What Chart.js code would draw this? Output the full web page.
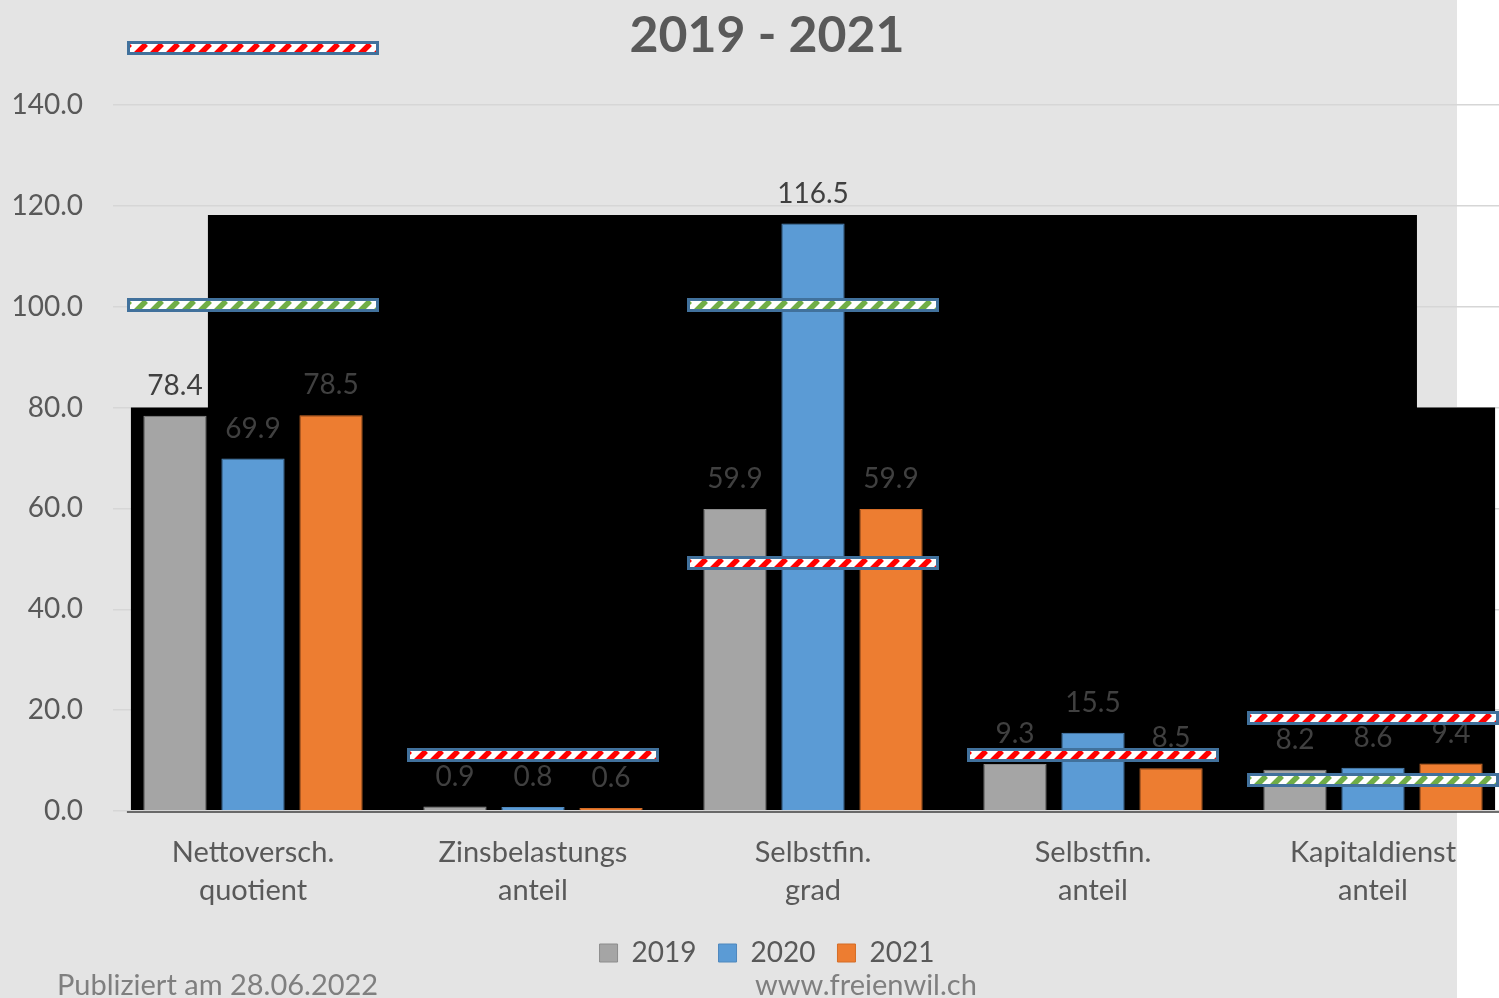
<!DOCTYPE html>
<html><head><meta charset="utf-8">
<script src="https://cdn.jsdelivr.net/npm/chart.js@4.4.1/dist/chart.umd.min.js"></script>
<style>
html,body{margin:0;padding:0;background:#fff;overflow:hidden;width:1499px;height:998px;}
#wrap{position:relative;width:1534px;height:998px;}
</style></head><body>
<div id="wrap"><canvas id="c"></canvas></div>
<script>
const categories = [["Nettoversch.","quotient"],["Zinsbelastungs","anteil"],["Selbstfin.","grad"],["Selbstfin.","anteil"],["Kapitaldienst","anteil"]];
const seriesNames = ["2019","2020","2021"];
const values2019 = [78.4, 0.9, 59.9, 9.3, 8.2];
const values2020 = [69.9, 0.8, 116.5, 15.5, 8.6];
const values2021 = [78.5, 0.6, 59.9, 8.5, 9.4];
const redLimits = [151.3, 11.2, 49.2, 11.1, 18.5];
const greenLimits = [100.3, null, 100.3, null, 6.1];
const yTicks = [0, 20, 40, 60, 80, 100, 120, 140];
// dark background artefact, in category / value units
const panelSteps = [-0.436, -0.161, 4.157, 4.436];
const panelTops = [80, 118.2];

const FONT = 'Lato';
const TXT = '#595959';

function makePattern(ctx, color) {
  const p = document.createElement('canvas'); p.width = 16; p.height = 16;
  const g = p.getContext('2d');
  g.fillStyle = '#ffffff'; g.fillRect(0, 0, 16, 16);
  g.strokeStyle = color; g.lineWidth = 5.5;
  g.beginPath();
  for (let k = -16; k <= 32; k += 16) { g.moveTo(k, 16); g.lineTo(k + 16, 0); }
  g.stroke();
  return ctx.createPattern(p, 'repeat');
}

const bgPlugin = {
  id: 'bg',
  beforeDraw(chart) {
    const ctx = chart.ctx;
    ctx.save();
    ctx.fillStyle = '#ffffff'; ctx.fillRect(0, 0, chart.width, chart.height);
    ctx.fillStyle = '#e4e4e4'; ctx.fillRect(0, 0, 1457, chart.height);
    ctx.restore();
  },
  beforeDatasetsDraw(chart) {
    const ctx = chart.ctx, x = chart.scales.x, y = chart.scales.y;
    const px = panelSteps.map(v => x.getPixelForValue(v));
    const y0 = y.getPixelForValue(0);
    const yLow = y.getPixelForValue(panelTops[0]);
    const yHigh = y.getPixelForValue(panelTops[1]);
    ctx.save();
    ctx.fillStyle = '#000000';
    ctx.beginPath();
    ctx.moveTo(px[0], y0 - 1);
    ctx.lineTo(px[0], yLow);
    ctx.lineTo(px[1], yLow);
    ctx.lineTo(px[1], yHigh);
    ctx.lineTo(px[2], yHigh);
    ctx.lineTo(px[2], yLow);
    ctx.lineTo(px[3], yLow);
    ctx.lineTo(px[3], y0 - 1);
    ctx.closePath();
    ctx.fill();
    ctx.strokeStyle = '#404040'; ctx.lineWidth = 1.5;
    ctx.beginPath();
    ctx.moveTo(px[0] - 4, y0 + 1); ctx.lineTo(chart.chartArea.right, y0 + 1);
    ctx.stroke();
    ctx.restore();
  },
  afterDatasetsDraw(chart) {
    const ctx = chart.ctx, x = chart.scales.x, y = chart.scales.y;
    ctx.save();
    ctx.font = '28px ' + FONT;
    ctx.fillStyle = '#404040';
    ctx.textAlign = 'center'; ctx.textBaseline = 'middle';
    chart.data.datasets.forEach((ds, di) => {
      const meta = chart.getDatasetMeta(di);
      meta.data.forEach((bar, i) => {
        ctx.fillText(ds.data[i].toFixed(1), bar.x, bar.y - 30);
      });
    });
    const w = (x.getPixelForValue(1) - x.getPixelForValue(0)) * 0.9;
    const h = 14;
    const redP = makePattern(ctx, '#ff0000');
    const greenP = makePattern(ctx, '#70ad47');
    const drawMark = (i, v, pat) => {
      if (v === null || v === undefined) return;
      const cx = x.getPixelForValue(i), cy = y.getPixelForValue(v);
      const l = Math.round(cx - w / 2), t = Math.round(cy - h / 2);
      ctx.fillStyle = '#41719c'; ctx.fillRect(l, t, w, h);
      ctx.save();
      ctx.translate(l + 3, t + 3);
      ctx.fillStyle = pat; ctx.fillRect(0, 0, w - 6, h - 6);
      ctx.restore();
    };
    redLimits.forEach((v, i) => drawMark(i, v, redP));
    greenLimits.forEach((v, i) => drawMark(i, v, greenP));
    ctx.restore();
  },
  afterDraw(chart) {
    const ctx = chart.ctx;
    ctx.save();
    ctx.font = '29px ' + FONT;
    ctx.fillStyle = '#7f7f7f';
    ctx.textBaseline = 'alphabetic'; ctx.textAlign = 'left';
    ctx.fillText('Publiziert am 28.06.2022', 57, 995);
    ctx.fillText('www.freienwil.ch', 755, 995);
    ctx.restore();
  }
};

new Chart(document.getElementById('c'), {
  type: 'bar',
  data: {
    labels: categories,
    datasets: [
      { label: seriesNames[0], data: values2019, backgroundColor: '#a5a5a5', borderColor: '#8c8c8c', borderWidth: 1 },
      { label: seriesNames[1], data: values2020, backgroundColor: '#5b9bd5', borderColor: '#4f88bd', borderWidth: 1 },
      { label: seriesNames[2], data: values2021, backgroundColor: '#ed7d31', borderColor: '#d46d27', borderWidth: 1 }
    ]
  },
  options: {
    responsive: true,
    maintainAspectRatio: false,
    animation: false,
    categoryPercentage: 0.836,
    barPercentage: 0.81,
    layout: { padding: { left: 0, right: 0, top: 0, bottom: 21 } },
    plugins: {
      tooltip: { enabled: false },
      title: {
        display: true, text: '2019 - 2021', color: TXT,
        font: { family: FONT, size: 50, weight: 'bold' },
        padding: { top: 6, bottom: 39 }
      },
      legend: {
        position: 'bottom',
        labels: {
          color: TXT, font: { family: FONT, size: 28 },
          boxWidth: 18, boxHeight: 18, padding: 22
        }
      }
    },
    scales: {
      y: {
        min: 0, max: 140,
        afterBuildTicks: s => { s.ticks = yTicks.map(v => ({ value: v })); },
        afterFit: s => { s.width = 113; },
        ticks: { color: TXT, font: { family: FONT, size: 28 }, padding: 30, callback: v => Number(v).toFixed(1) },
        grid: { color: '#d6d6d6', lineWidth: 1.5, drawTicks: false },
        border: { display: false }
      },
      yRight: {
        type: 'linear', position: 'right', display: true,
        afterFit: s => { s.width = 21; },
        ticks: { display: false },
        grid: { display: false, drawTicks: false },
        border: { display: false }
      },
      x: {
        afterFit: s => { s.height = s.height - 16; },
        ticks: { color: TXT, font: { family: FONT, size: 29, lineHeight: 1.31 }, padding: 23, maxRotation: 0 },
        grid: { display: false, drawTicks: false },
        border: { display: false }
      }
    }
  },
  plugins: [bgPlugin]
});
</script>
</body></html>
